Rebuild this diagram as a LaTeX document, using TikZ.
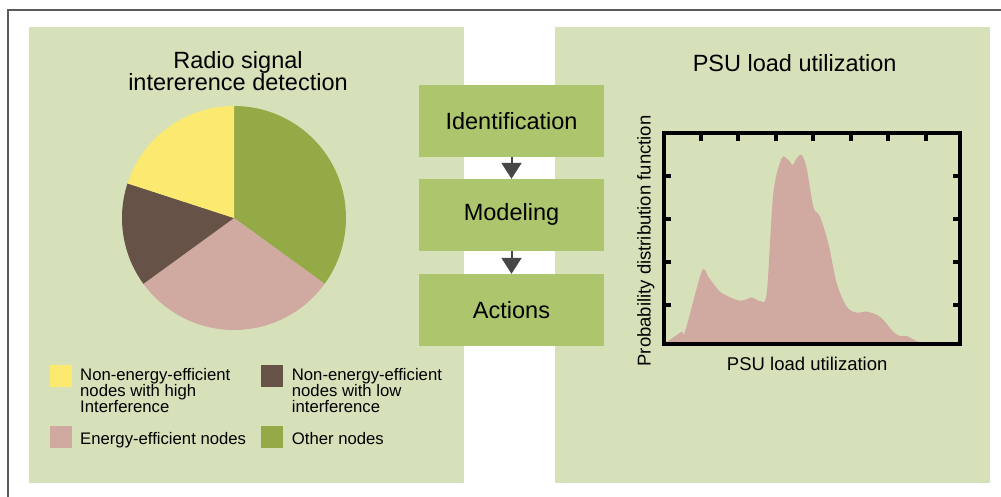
\documentclass[tikz,border=0pt]{standalone}
\usepackage{fontspec}
\setmainfont{Liberation Sans}
\usetikzlibrary{positioning,arrows.meta}

\definecolor{panelbg}{HTML}{D6E1BA}
\definecolor{boxgreen}{HTML}{ADC56C}
\definecolor{othergreen}{HTML}{94AA46}
\definecolor{effpink}{HTML}{D0AAA0}
\definecolor{lowbrown}{HTML}{675248}
\definecolor{highyellow}{HTML}{FCEA70}
\definecolor{arrowgray}{HTML}{474747}
\definecolor{framegray}{HTML}{5A5A5A}

\begin{document}
\begin{tikzpicture}[x=1pt, y=1pt,
  panel/.style={rectangle, fill=panelbg, minimum width=435pt, minimum height=456pt, anchor=north west, outer sep=0pt},
  stepbox/.style={rectangle, fill=boxgreen, minimum width=185pt, minimum height=72pt, outer sep=0pt, font=\fontsize{23.5}{27}\selectfont},
  swatch/.style={rectangle, minimum width=22pt, minimum height=22pt, anchor=north west, inner sep=0pt, outer sep=0pt},
  legend/.style={align=left, inner sep=0pt, font=\fontsize{16.7}{16}\selectfont},
  flow/.style={draw=arrowgray, line width=2pt, -{Triangle[width=20pt,length=16pt]}}]
\useasboundingbox (0,0) rectangle (1001,-497);
\draw[framegray, line width=2pt] (8,-497) -- (8,-10) -- (1001,-10);

\node (leftpanel) [panel] at (29,-27) {};
\node (rightpanel) [panel] at (555,-27) {};

% pie chart
\node (pietitle) [align=center, font=\fontsize{23.5}{22.5}\selectfont] at (238,-71) {Radio signal\\intererence detection};
\foreach \from/\to/\col in {90/-36/othergreen, -36/-144/effpink, -144/-198/lowbrown, 162/90/highyellow}
  \fill[\col] (234,-218) -- ++(\from:112) arc[start angle=\from, end angle=\to, radius=112] -- cycle;

\node (swhigh) [swatch, fill=highyellow] at (50,-365) {};
\node (txthigh) [legend, anchor=north west] at (80,-368) {Non-energy-efficient\\nodes with high\\Interference};
\node (swlow) [swatch, fill=lowbrown] at (261,-365) {};
\node (txtlow) [legend, anchor=north west] at (291.7,-368) {Non-energy-efficient\\nodes with low\\interference};
\node (sweff) [swatch, fill=effpink] at (50,-426) {};
\node (txteff) [legend, anchor=base west] at (80,-444) {Energy-efficient nodes};
\node (swother) [swatch, fill=othergreen] at (261,-426) {};
\node (txtother) [legend, anchor=base west] at (291.7,-444) {Other nodes};

% steps
\node (ident) [stepbox] at (511.5,-120.8) {Identification};
\node (model) [stepbox, below=22pt of ident] {Modeling};
\node (actions) [stepbox, below=23pt of model] {Actions};
\draw[flow] (ident) -- (model);
\draw[flow] (model) -- (actions);

% load distribution
\node (chartitle) [anchor=base, font=\fontsize{23.5}{27}\selectfont] at (794.7,-71.7) {PSU load utilization};
\fill[effpink] plot[smooth, tension=0.5] coordinates {
  (665,-343.3) (681.7,-331.7) (685,-331.7) (701.7,-271.7) (708.3,-276.7)
  (720,-291.7) (736.7,-300) (745,-300) (751.7,-297.3) (760,-301)
  (766.7,-293.3) (773.3,-193.3) (781.7,-158.3) (788.3,-160) (792.7,-165)
  (796.7,-158.3) (801.7,-155) (806.7,-168.3) (813.3,-206.7) (820,-216.7)
  (828.3,-243.3) (836.7,-283.3) (846.7,-306.7) (856.7,-312.7) (866.7,-311.7)
  (880,-316.7) (893.3,-331.7) (900,-336) (906.7,-336) (918.3,-341.7)
  (930,-342.3) (931.7,-343.3)} -- cycle;
\draw[line width=4pt] (664,-133) rectangle (959.7,-344);
\foreach \k in {0,...,6}
  \draw[line width=4pt] (700.7+37.55*\k,-133) -- ++(0,-8);
\foreach \k in {0,...,3} {
  \draw[line width=4pt] (664,-176.5-42.8*\k) -- ++(7,0);
  \draw[line width=4pt] (959.7,-176.5-42.8*\k) -- ++(-7,0);
}
\node (ylabel) [rotate=90, anchor=base, font=\fontsize{18.5}{22}\selectfont] at (650.5,-241) {Probability distribution function};
\node (xlabel) [anchor=base, font=\fontsize{18.5}{22}\selectfont] at (807.2,-370) {PSU load utilization};
\end{tikzpicture}
\end{document}
